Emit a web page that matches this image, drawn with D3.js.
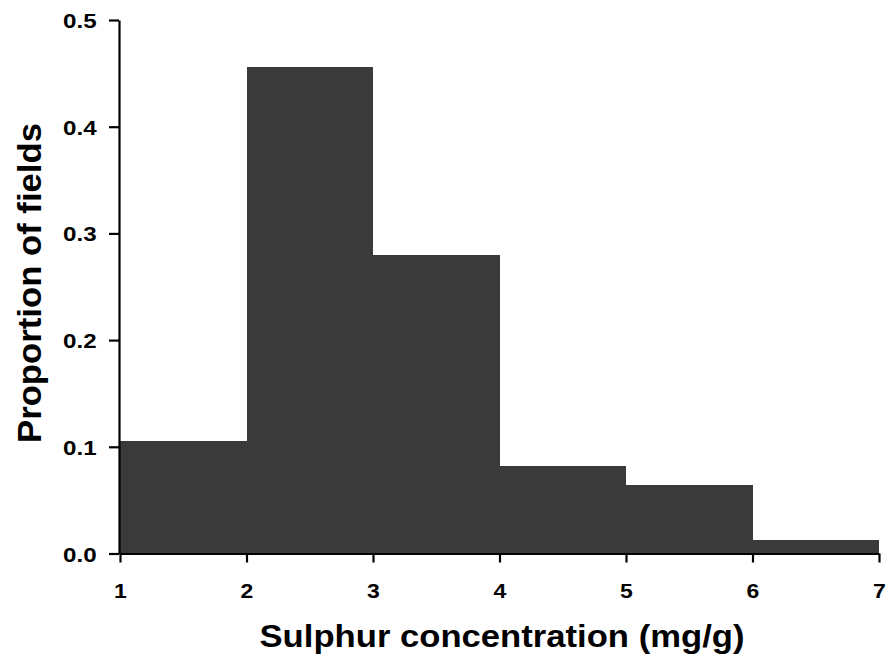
<!DOCTYPE html>
<html>
<head>
<meta charset="utf-8">
<script src="https://cdn.jsdelivr.net/npm/d3@7"></script>
<style>
	body { margin: 0; background: #fff; }
	svg text { font-family: "Liberation Sans", Arial, sans-serif; font-weight: bold; fill: #000; }
</style>
</head>
<body>
<svg id="chart" width="889" height="663"></svg>
<script>
// bin edges (mg/g) and proportion of fields in each bin
var binStarts = [1, 2, 3, 4, 5, 6];
var binEnds = [2, 3, 4, 5, 6, 7];
var proportions = [0.105, 0.456, 0.280, 0.082, 0.064, 0.013];
var xTicks = [1, 2, 3, 4, 5, 6, 7];
var yTicks = [0.0, 0.1, 0.2, 0.3, 0.4, 0.5];

var svg = d3.select('#chart');
var textStretch = 1.15; // labels in the picture are drawn a bit wide

var x = d3.scaleLinear().domain([1, 7]).range([120, 879]);
var y = d3.scaleLinear().domain([0, 0.5]).range([553.5, 20]);

var bins = binStarts.map(function(d, i) {
	return { x0: d, x1: binEnds[i], value: proportions[i] };
});

svg.append('g')
	.attr('class', 'bars')
	.selectAll('rect')
	.data(bins)
	.enter()
	.append('rect')
	.attr('x', function(d) { return x(d.x0); })
	.attr('width', function(d) { return x(d.x1) - x(d.x0); })
	.attr('y', function(d) { return y(d.value); })
	.attr('height', function(d) { return y(0) - y(d.value); })
	.attr('shape-rendering', 'crispEdges')
	.attr('fill', '#3a3a3a');

// y axis
var yAxis = svg.append('g')
	.attr('transform', 'translate(119,0)')
	.call(d3.axisLeft(y).tickValues(yTicks).tickFormat(d3.format('.1f')).tickSize(10).tickSizeOuter(0));

yAxis.selectAll('.tick text')
	.attr('x', -19.5)
	.attr('dy', '0.36em')
	.attr('transform', 'scale(' + textStretch + ',1)')
	.attr('font-size', 21);

// x axis
var xAxis = svg.append('g')
	.attr('transform', 'translate(0,553.5)')
	.call(d3.axisBottom(x).tickValues(xTicks).tickFormat(d3.format('d')).tickSize(9).tickSizeOuter(0));

xAxis.selectAll('.tick text')
	.attr('x', 0)
	.attr('y', 44.5)
	.attr('dy', 0)
	.attr('transform', 'scale(' + textStretch + ',1)')
	.attr('font-size', 20);

svg.selectAll('.domain, .tick line')
	.attr('stroke', '#000')
	.attr('stroke-width', 2.2);

// axis titles
svg.append('text')
	.attr('x', 502)
	.attr('y', 647)
	.attr('text-anchor', 'middle')
	.attr('font-size', 31)
	.attr('textLength', 485)
	.attr('lengthAdjust', 'spacingAndGlyphs')
	.text('Sulphur concentration (mg/g)');

svg.append('text')
	.attr('transform', 'translate(41,283) rotate(-90)')
	.attr('text-anchor', 'middle')
	.attr('font-size', 34)
	.attr('textLength', 320)
	.attr('lengthAdjust', 'spacingAndGlyphs')
	.text('Proportion of fields');
</script>
</body>
</html>
